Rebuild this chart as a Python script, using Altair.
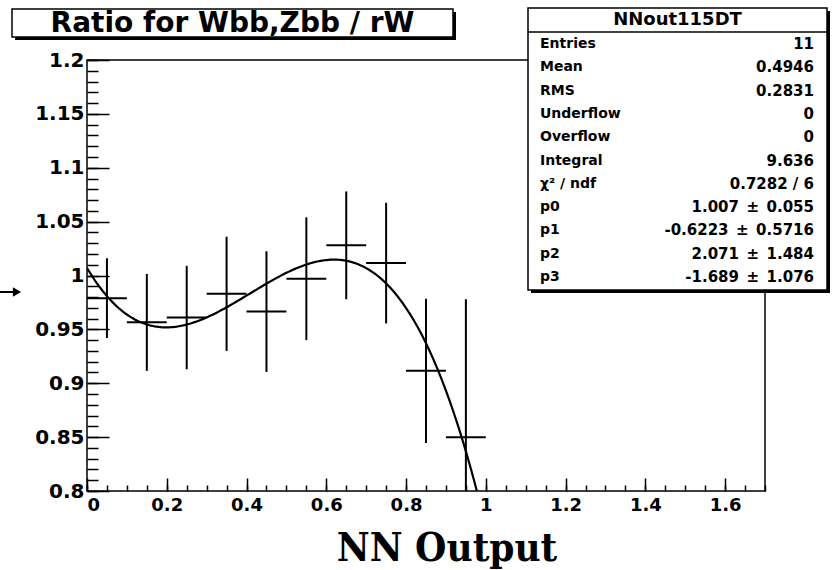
import altair as alt
import numpy as np
import pandas as pd

# ---------------- data ----------------
nn_center = [0.05, 0.15, 0.25, 0.35, 0.45, 0.55, 0.65, 0.75, 0.85, 0.95]
ratio = [0.979, 0.9565, 0.961, 0.983, 0.9665, 0.997, 1.028, 1.0115, 0.9115, 0.850]
ratio_err = [0.037, 0.045, 0.048, 0.053, 0.056, 0.057, 0.050, 0.056, 0.067, 0.128]
bin_half_width = 0.05

# pol3 fit parameters shown in the stats box
fit_params = [1.007, -0.6223, 2.071, -1.689]

x_label_values = [0, 0.2, 0.4, 0.6, 0.8, 1.0, 1.2, 1.4, 1.6]
x_major_ticks = [0, 0.2, 0.4, 0.6, 0.8, 1.0, 1.2, 1.4, 1.6]
x_minor_ticks = [round(0.05 * i, 2) for i in range(35)]
y_label_values = [0.8, 0.85, 0.9, 0.95, 1.0, 1.05, 1.1, 1.15, 1.2]
y_major_ticks = y_label_values
y_minor_ticks = [round(0.8 + 0.01 * i, 2) for i in range(41)]

title_text = "Ratio for Wbb,Zbb / rW"
x_title = "NN Output"
stats_name = "NNout115DT"
stats_labels = ["Entries", "Mean", "RMS", "Underflow", "Overflow", "Integral",
                "\u03c7\u00b2 / ndf", "p0", "p1", "p2", "p3"]
PM = "\u2002\u00b1\u2002"
stats_values = ["11", "0.4946", "0.2831", "0", "0", "9.636", "0.7282 / 6",
                "1.007" + PM + "0.055", "-0.6223" + PM + "0.5716",
                "2.071" + PM + "1.484", "-1.689" + PM + "1.076"]

# ---------------- tables ----------------
pts = pd.DataFrame({"x": nn_center, "y": ratio, "e": ratio_err})
pts["lo"] = pts["y"] - pts["e"]
pts["hi"] = pts["y"] + pts["e"]
pts["xlo"] = pts["x"] - bin_half_width
pts["xhi"] = pts["x"] + bin_half_width

fx = np.round(np.arange(0.0, 0.99, 0.005), 4)
fy = sum(p * fx ** i for i, p in enumerate(fit_params))
fit = pd.DataFrame({"x": fx, "y": fy})

one = pd.DataFrame({"a": [0]})

# ---------------- geometry ----------------
W, H = 678, 431
OX, OY = 87, 60

xs = alt.Scale(domain=[0, 1.7], nice=False, zero=False)
ys = alt.Scale(domain=[0.8, 1.2], nice=False, zero=False)

LF = "DejaVu Sans"

ax_x_labels = alt.Axis(orient="bottom", values=x_label_values, ticks=False, domain=False,
                       grid=False, title=None, format="~g", labelFont=LF,
                       labelFontWeight="bold", labelFontSize=18, labelColor="black",
                       labelPadding=5, labelFlush=True, labelOverlap=False, labelBound=False)
ax_y_labels = alt.Axis(orient="left", values=y_label_values, ticks=False, domain=False,
                       grid=False, title=None, format="~g", labelFont=LF,
                       labelFontWeight="bold", labelFontSize=20, labelColor="black",
                       labelPadding=3, labelFlush=False, labelOverlap=False, labelBound=False)
ax_x_major = alt.Axis(orient="top", offset=-H, values=x_major_ticks, tickSize=13,
                      tickColor="black", tickWidth=1.5, labels=False, domain=False,
                      grid=False, title=None)
ax_y_major = alt.Axis(orient="right", offset=-W, values=y_major_ticks, tickSize=22,
                      tickColor="black", tickWidth=1.5, labels=False, domain=False,
                      grid=False, title=None)
ax_x_minor = alt.Axis(orient="top", offset=-H, values=x_minor_ticks, tickSize=6,
                      tickColor="black", tickWidth=1.5, labels=False, domain=False,
                      grid=False, title=None)
ax_y_minor = alt.Axis(orient="right", offset=-W, values=y_minor_ticks, tickSize=11,
                      tickColor="black", tickWidth=1.5, labels=False, domain=False,
                      grid=False, title=None)

vbars = alt.Chart(pts).mark_rule(color="black", strokeWidth=2, clip=True).encode(
    x=alt.X("x:Q", scale=xs, axis=ax_x_labels),
    y=alt.Y("lo:Q", scale=ys, axis=ax_y_labels),
    y2="hi:Q",
)
hbars = alt.Chart(pts).mark_rule(color="black", strokeWidth=2, clip=True).encode(
    x=alt.X("xlo:Q", scale=xs, axis=ax_x_major),
    x2="xhi:Q",
    y=alt.Y("y:Q", scale=ys, axis=ax_y_major),
)
fitline = alt.Chart(fit).mark_line(color="black", strokeWidth=2.2, clip=True).encode(
    x=alt.X("x:Q", scale=xs, axis=ax_x_minor),
    y=alt.Y("y:Q", scale=ys, axis=ax_y_minor),
)

# --------- decorations in pixel space (relative to plot origin) ---------
def box(x0, y0, x1, y1, fill, stroke=None, sw=0):
    kw = dict(fill=fill)
    if stroke:
        kw.update(stroke=stroke, strokeWidth=sw)
    return alt.Chart(one).mark_rect(**kw).encode(
        x=alt.value(x0 - OX), x2=alt.value(x1 - OX),
        y=alt.value(y0 - OY), y2=alt.value(y1 - OY))

title_shadow = box(15, 12, 456, 40, "black")
title_box = box(12, 9, 453, 37, "white", "black", 1.5)
title_lbl = alt.Chart(one).mark_text(font=LF, fontWeight="bold", fontSize=28,
                                     align="center", baseline="middle", color="black").encode(
    x=alt.value((12 + 453) / 2 - OX), y=alt.value(24 - OY), text=alt.value(title_text))

st_x0, st_y0, st_x1, st_y1 = 528, 8, 827, 290
stats_shadow = box(st_x0 + 3, st_y0 + 3, st_x1 + 3, st_y1 + 3, "black")
stats_box = box(st_x0, st_y0, st_x1, st_y1, "white", "black", 1.5)
stats_sep = alt.Chart(one).mark_rule(color="black", strokeWidth=1.5).encode(
    x=alt.value(st_x0 - OX), x2=alt.value(st_x1 - OX), y=alt.value(32 - OY))
stats_head = alt.Chart(one).mark_text(font=LF, fontWeight="bold", fontSize=18,
                                      align="center", baseline="middle", color="black").encode(
    x=alt.value((st_x0 + st_x1) / 2 - OX), y=alt.value(20 - OY), text=alt.value(stats_name))
row_h = 23.3
stats_lbl = alt.Chart(one).mark_text(font=LF, fontWeight="bold", fontSize=14,
                                     align="left", baseline="middle", lineHeight=row_h,
                                     color="black").encode(
    x=alt.value(540 - OX), y=alt.value(44 - OY), text=alt.value(stats_labels))
stats_val = alt.Chart(one).mark_text(font=LF, fontWeight="bold", fontSize=15,
                                     align="right", baseline="middle", lineHeight=row_h,
                                     color="black").encode(
    x=alt.value(814 - OX), y=alt.value(44 - OY), text=alt.value(stats_values))

xtitle = alt.Chart(one).mark_text(font="DejaVu Serif Condensed, DejaVu Serif", fontWeight="bold",
                                  fontSize=40, align="center", baseline="alphabetic",
                                  color="black").encode(
    x=alt.value(447 - OX), y=alt.value(561 - OY), text=alt.value(x_title))

arrow_line = alt.Chart(one).mark_rule(color="black", strokeWidth=2).encode(
    x=alt.value(0 - OX), x2=alt.value(14 - OX), y=alt.value(292 - OY))
arrow_head = alt.Chart(one).mark_point(shape="triangle-right", filled=True, size=90,
                                       color="black", opacity=1).encode(
    x=alt.value(17 - OX), y=alt.value(292 - OY))

chart = alt.layer(
    vbars, hbars, fitline,
    title_shadow, title_box, title_lbl,
    stats_shadow, stats_box, stats_sep, stats_head, stats_lbl, stats_val,
    xtitle, arrow_line, arrow_head,
).resolve_axis(x="independent", y="independent").properties(
    width=W, height=H,
    padding={"left": OX, "top": OY, "right": 833 - OX - W, "bottom": 570 - OY - H},
    autosize=alt.AutoSizeParams(type="none"),
    background="white",
).configure_view(stroke="black", strokeWidth=1.5)

chart.save("out.html", embed_options={"renderer": "svg", "actions": False})
